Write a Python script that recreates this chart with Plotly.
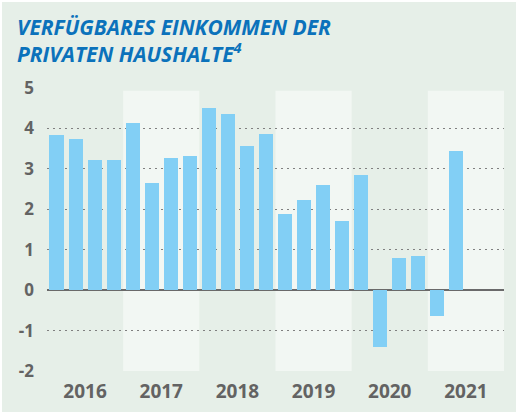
import plotly.graph_objects as go

years = ["2016", "2017", "2018", "2019", "2020", "2021"]
quarters = list(range(22))
values = [3.83, 3.75, 3.23, 3.21,
          4.13, 2.66, 3.28, 3.31,
          4.50, 4.35, 3.56, 3.85,
          1.89, 2.22, 2.61, 1.72,
          2.84, -1.41, 0.80, 0.85,
          -0.63, 3.43]
y_ticks = [-2, -1, 0, 1, 2, 3, 4, 5]

BG = "#e6efe8"
BAND = "#f2f7f3"
BAR = "#82cff5"
BLUE = "#0b72bb"
GREY = "#636363"

W, H = 516, 412
ML, MR, MT, MB = 47, 12, 88, 41

fig = go.Figure()
fig.add_trace(go.Bar(x=quarters, y=values, width=0.74,
                     marker=dict(color=BAR, line=dict(width=0)),
                     hoverinfo="skip"))

shapes = []
# light bands for 2017, 2019, 2021
for i in (1, 3, 5):
    shapes.append(dict(type="rect", xref="x", yref="y", x0=4 * i - 0.5, x1=4 * i + 3.5,
                       y0=-2, y1=4.93, fillcolor=BAND, line=dict(width=0), layer="below"))
# white frame strips (left and top)
pw = W - ML - MR
ph = H - MT - MB
shapes.append(dict(type="rect", xref="paper", yref="paper",
                   x0=(0 - ML) / pw - 0.01, x1=(2 - ML) / pw, y0=-MB / ph - 0.01, y1=1 + MT / ph + 0.01,
                   fillcolor="white", line=dict(width=0), layer="below"))
shapes.append(dict(type="rect", xref="paper", yref="paper",
                   x0=(0 - ML) / pw - 0.01, x1=1 + MR / pw + 0.01, y0=1 + (MT - 2) / ph, y1=1 + MT / ph + 0.01,
                   fillcolor="white", line=dict(width=0), layer="below"))

def px_x(px):
    return (px - ML) / pw

def px_y(py):
    return 1 - (py - MT) / ph

title_font = dict(family="Open Sans", size=21, color=BLUE)
annotations = [
    dict(text="<b><i>VERFÜGBARES EINKOMMEN DER<br>PRIVATEN HAUSHALTE<sup>4</sup></i></b>",
         xref="paper", yref="paper", align="left",
         x=px_x(15), y=px_y(11), xanchor="left", yanchor="top", showarrow=False, font=title_font),
]

fig.update_layout(
    width=W, height=H,
    margin=dict(l=ML, r=MR, t=MT, b=MB, pad=0),
    paper_bgcolor=BG, plot_bgcolor="rgba(0,0,0,0)",
    showlegend=False, bargap=0,
    shapes=shapes, annotations=annotations,
    xaxis=dict(range=[-0.5, 23.5], tickvals=[1.5, 5.5, 9.5, 13.5, 17.5, 21.5], ticktext=years,
               showgrid=False, zeroline=False, showline=False,
               ticks="outside", ticklen=3, tickcolor="rgba(0,0,0,0)",
               tickfont=dict(family="Noto Sans", size=19, color=GREY, weight="bold"),
               fixedrange=True, automargin=False),
    yaxis=dict(range=[-2, 5], tickvals=y_ticks, ticktext=[str(v) for v in y_ticks],
               showgrid=True, gridcolor="#808080", gridwidth=1, griddash="2px,4px",
               zeroline=True, zerolinecolor="#6a6a6a", zerolinewidth=2,
               showline=False, ticks="", ticklabelstandoff=12,
               tickfont=dict(family="Noto Sans", size=17, color=GREY, weight="bold"),
               fixedrange=True, automargin=False),
)

fig.write_html("out.html", config={"displayModeBar": False},
               post_script="document.body.style.margin='0';document.body.style.padding='0';")
